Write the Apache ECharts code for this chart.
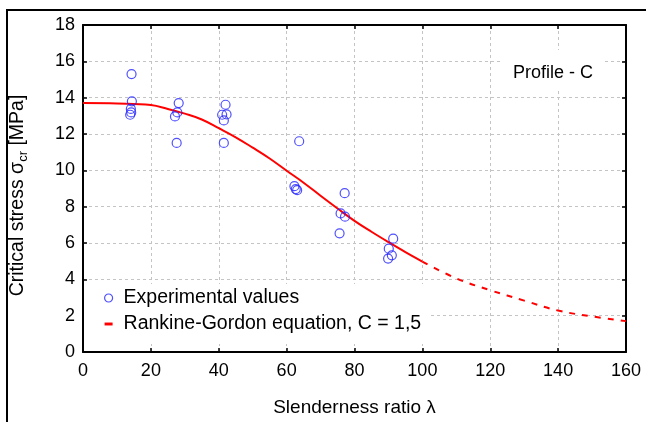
<!DOCTYPE html>
<html>
<head>
<meta charset="utf-8">
<script src="https://cdn.jsdelivr.net/npm/echarts@6/dist/echarts.min.js"></script>
<style>
html,body{margin:0;padding:0;background:#fff;}
#chart{width:646px;height:422px;}
</style>
</head>
<body>
<div id="chart"></div>
<script>
// Experimental values (slenderness ratio, critical stress MPa)
const expLambda = [14.3, 14.4, 14.1, 14.2, 13.9, 28.2, 27.8, 27.1, 27.6, 42.0, 41.0, 42.3, 41.5, 41.5, 63.7, 62.3, 63.1, 62.7, 77.1, 75.9, 77.2, 75.6, 91.4, 90.1, 91.0, 89.9];
const expSigma  = [15.3, 13.8, 13.38, 13.19, 13.06, 13.7, 13.19, 12.97, 11.51, 13.61, 13.06, 13.08, 12.75, 11.51, 11.6, 9.13, 8.91, 8.97, 8.74, 7.63, 7.45, 6.53, 6.24, 5.69, 5.32, 5.14];

// Rankine-Gordon curve
const curveLambda = [0, 10, 20, 25, 30, 35, 40, 45, 50, 55, 60, 65, 70, 75, 80, 85, 90, 95, 100, 110, 120, 130, 140, 150, 160];
const curveSigma  = [13.70, 13.68, 13.60, 13.38, 13.12, 12.80, 12.32, 11.82, 11.25, 10.65, 9.98, 9.32, 8.60, 7.90, 7.22, 6.62, 6.05, 5.50, 4.98, 4.05, 3.40, 2.83, 2.28, 1.96, 1.70];
const solidLimit = 100;

const xTicks = [0, 20, 40, 60, 80, 100, 120, 140, 160];
const yTicks = [0, 2, 4, 6, 8, 10, 12, 14, 16, 18];

const expName = 'Experimental values';
const curveName = 'Rankine-Gordon equation, C = 1,5';

const FONT = '"Liberation Sans", Arial, sans-serif';

const expData = expLambda.map((x, i) => [x, expSigma[i]]);
const solidData = [], dashData = [];
curveLambda.forEach((x, i) => {
  if (x <= solidLimit) solidData.push([x, curveSigma[i]]);
  if (x >= solidLimit) dashData.push([x, curveSigma[i]]);
});

const chart = echarts.init(document.getElementById('chart'), null, {renderer: 'canvas'});

const baseAxis = {
  axisLine: {show: true, onZero: false, lineStyle: {color: '#000', width: 2}},
  axisTick: {show: true, inside: true, length: 4, lineStyle: {color: '#000', width: 1.5}},
};

chart.setOption({
  animation: false,
  backgroundColor: '#fff',
  title: {
    text: 'Profile - C',
    left: 500, top: 50,
    padding: [14, 10, 8, 13],
    backgroundColor: '#fff',
    textStyle: {fontFamily: FONT, fontSize: 18, fontWeight: 'normal', color: '#000'}
  },
  grid: {left: 83, right: 20, top: 25, bottom: 69},
  legend: {
    orient: 'vertical',
    left: 84, top: 284,
    padding: [4, 8, 10, 20],
    itemGap: 6,
    itemWidth: 8, itemHeight: 8,
    backgroundColor: '#fff',
    textStyle: {fontFamily: FONT, fontSize: 19.5, color: '#000', padding: [0, 0, 0, 6]},
    data: [
      {name: expName, icon: 'circle', itemStyle: {color: '#fff', borderColor: '#2424ff', borderWidth: 1.2}},
      {name: curveName, icon: 'path://M1,0L7,0L7,2.2L1,2.2Z', itemStyle: {color: '#ff0000', borderWidth: 0}}
    ]
  },
  xAxis: [
    Object.assign({}, baseAxis, {
      type: 'value', position: 'bottom', min: 0, max: 160, interval: 20,
      name: 'Slenderness ratio λ', nameLocation: 'middle', nameGap: 46,
      nameTextStyle: {fontFamily: FONT, fontSize: 19, color: '#000'},
      axisLabel: {show: true, margin: 10, fontFamily: FONT, fontSize: 18, color: '#000',
        formatter: v => xTicks.indexOf(v) >= 0 ? String(v) : ''},
      splitLine: {show: true, lineStyle: {color: '#c4c4c4', width: 1, type: [3, 3]}}
    }),
    Object.assign({}, baseAxis, {
      type: 'value', position: 'top', min: 0, max: 160, interval: 20,
      axisLabel: {show: false}, splitLine: {show: false}
    })
  ],
  yAxis: [
    Object.assign({}, baseAxis, {
      type: 'value', position: 'left', min: 0, max: 18, interval: 2,
      name: '{a|Critical stress σ}{s|cr}{a| [MPa]}', nameLocation: 'middle', nameGap: 53, nameRotate: 90,
      nameTextStyle: {
        fontFamily: FONT, fontSize: 19, color: '#000', padding: [0, 14, 0, 0],
        rich: {
          a: {fontFamily: FONT, fontSize: 19.5, color: '#000', lineHeight: 24, verticalAlign: 'middle'},
          s: {fontFamily: FONT, fontSize: 13, color: '#000', lineHeight: 14, verticalAlign: 'bottom'}
        }
      },
      axisLabel: {show: true, margin: 8, fontFamily: FONT, fontSize: 18, color: '#000',
        formatter: v => yTicks.indexOf(v) >= 0 ? String(v) : ''},
      splitLine: {show: true, lineStyle: {color: '#c4c4c4', width: 1, type: [3, 3]}}
    }),
    Object.assign({}, baseAxis, {
      type: 'value', position: 'right', min: 0, max: 18, interval: 2,
      axisLabel: {show: false}, splitLine: {show: false}
    })
  ],
  graphic: [
    {type: 'polyline', silent: true, z: 100,
     shape: {points: [[7, 422], [7, 10], [646, 10]]},
     style: {stroke: '#000', lineWidth: 2, fill: null}}
  ],
  series: [
    {
      name: curveName, type: 'line', data: solidData, showSymbol: false, symbol: 'none',
      smooth: 0.4,
      lineStyle: {color: '#ff0000', width: 2}, itemStyle: {color: '#ff0000'}, z: 3
    },
    {
      name: curveName, type: 'line', data: dashData, showSymbol: false, symbol: 'none',
      smooth: 0.4,
      lineStyle: {color: '#ff0000', width: 2, type: [6, 7]}, itemStyle: {color: '#ff0000'}, z: 3
    },
    {
      name: expName, type: 'scatter', data: expData, symbol: 'circle', symbolSize: 9,
      itemStyle: {color: 'rgba(255,255,255,0)', borderColor: '#2424ff', borderWidth: 1.2}, z: 4
    }
  ]
});
</script>
</body>
</html>
